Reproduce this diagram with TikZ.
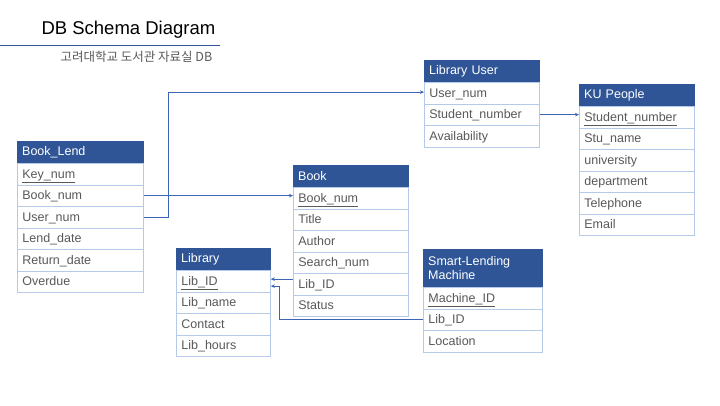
\documentclass[tikz,border=0pt]{standalone}
\usepackage{fontspec}
\setmainfont{Liberation Sans}
\newfontfamily\korfont{Noto Sans CJK KR}
\usetikzlibrary{arrows.meta}
\definecolor{hdrblue}{RGB}{47,85,151}
\definecolor{rowline}{RGB}{180,202,232}
\definecolor{linkblue}{RGB}{60,100,185}
\definecolor{txtgray}{RGB}{89,89,89}
\tikzset{
	hdr/.style={draw=hdrblue, fill=hdrblue, text=white, anchor=north west, inner xsep=5pt, inner ysep=0pt, minimum height=22pt, align=left, font=\fontsize{12.5}{14}\selectfont},
	fld/.style={draw=rowline, line width=0.8pt, fill=white, text=txtgray, anchor=north west, inner xsep=5pt, inner ysep=0pt, minimum height=21.5pt, text height=10pt, text depth=2pt, align=left, font=\fontsize{12.5}{14}\selectfont},
	link/.style={draw=linkblue, line width=0.7pt, -{Stealth[length=4pt,width=3.5pt]}}
}
\newcommand{\keyname}[1]{\underline{#1}}

\begin{document}
\begin{tikzpicture}[x=1pt, y=-1pt]

					\useasboundingbox (0,0) rectangle (720,405);

					\node[anchor=west, font=\fontsize{18.5}{22}\selectfont] (title) at (38,30) {DB Schema Diagram};
					\draw[hdrblue, line width=1pt] (0,45) -- (220,45);
					\node[anchor=west, text=txtgray, font=\korfont\fontsize{12.5}{14}\selectfont] (subtitle) at (57,57) {고려대학교 도서관 자료실 DB};

					\begin{scope}[xshift=17pt, yshift=-141pt]
						\node[hdr, text width=116pt] (bl) at (0,0) {Book\_Lend};
						\node[fld, text width=116pt] (bl1) at (0,22) {\keyname{Key\_num}};
						\node[fld, text width=116pt] (bl2) at (0,43.5) {Book\_num};
						\node[fld, text width=116pt] (bl3) at (0,65) {User\_num};
						\node[fld, text width=116pt] (bl4) at (0,86.5) {Lend\_date};
						\node[fld, text width=116pt] (bl5) at (0,108) {Return\_date};
						\node[fld, text width=116pt] (bl6) at (0,129.5) {Overdue};
					\end{scope}

					\begin{scope}[xshift=424pt, yshift=-60pt]
						\node[hdr, text width=105pt] (lu) at (0,0) {Library User};
						\node[fld, text width=105pt] (lu1) at (0,22) {User\_num};
						\node[fld, text width=105pt] (lu2) at (0,43.5) {Student\_number};
						\node[fld, text width=105pt] (lu3) at (0,65) {Availability};
					\end{scope}

					\begin{scope}[xshift=579pt, yshift=-84pt]
						\node[hdr, text width=105pt] (kp) at (0,0) {KU People};
						\node[fld, text width=105pt] (kp1) at (0,22) {\keyname{Student\_number}};
						\node[fld, text width=105pt] (kp2) at (0,43.5) {Stu\_name};
						\node[fld, text width=105pt] (kp3) at (0,65) {university};
						\node[fld, text width=105pt] (kp4) at (0,86.5) {department};
						\node[fld, text width=105pt] (kp5) at (0,108) {Telephone};
						\node[fld, text width=105pt] (kp6) at (0,129.5) {Email};
					\end{scope}

					\begin{scope}[xshift=293pt, yshift=-165pt]
						\node[hdr, text width=105pt] (bk) at (0,0) {Book};
						\node[fld, text width=105pt] (bk1) at (0,22) {\keyname{Book\_num}};
						\node[fld, text width=105pt] (bk2) at (0,43.5) {Title};
						\node[fld, text width=105pt] (bk3) at (0,65) {Author};
						\node[fld, text width=105pt] (bk4) at (0,86.5) {Search\_num};
						\node[fld, text width=105pt] (bk5) at (0,108) {Lib\_ID};
						\node[fld, text width=105pt] (bk6) at (0,129.5) {Status};
					\end{scope}

					\begin{scope}[xshift=176pt, yshift=-248pt]
						\node[hdr, text width=84pt] (lb) at (0,0) {Library};
						\node[fld, text width=84pt] (lb1) at (0,22) {\keyname{Lib\_ID}};
						\node[fld, text width=84pt] (lb2) at (0,43.5) {Lib\_name};
						\node[fld, text width=84pt] (lb3) at (0,65) {Contact};
						\node[fld, text width=84pt] (lb4) at (0,86.5) {Lib\_hours};
					\end{scope}

					\begin{scope}[xshift=423pt, yshift=-249pt]
						\node[hdr, text width=109pt, minimum height=38pt] (sm) at (0,0) {Smart-Lending\\Machine};
						\node[fld, text width=109pt] (sm1) at (0,38) {\keyname{Machine\_ID}};
						\node[fld, text width=109pt] (sm2) at (0,59.5) {Lib\_ID};
						\node[fld, text width=109pt] (sm3) at (0,81) {Location};
					\end{scope}

					\draw[link] (bl2.east) -- (bl2.east -| bk1.west);
					\draw[link] (bl3.east) -- ++(25,0) |- ([yshift=1pt]lu1.west);
					\draw[link] (lu2.east) -- (lu2.east -| kp1.west);
					\draw[link] ([yshift=2pt]lb1.east -| bk5.west) -- ([yshift=2pt]lb1.east);
					\draw[link] (sm2.west) -| ([xshift=9pt, yshift=-5pt]lb1.east) -- ([yshift=-5pt]lb1.east);

				\end{tikzpicture}
\end{document}
